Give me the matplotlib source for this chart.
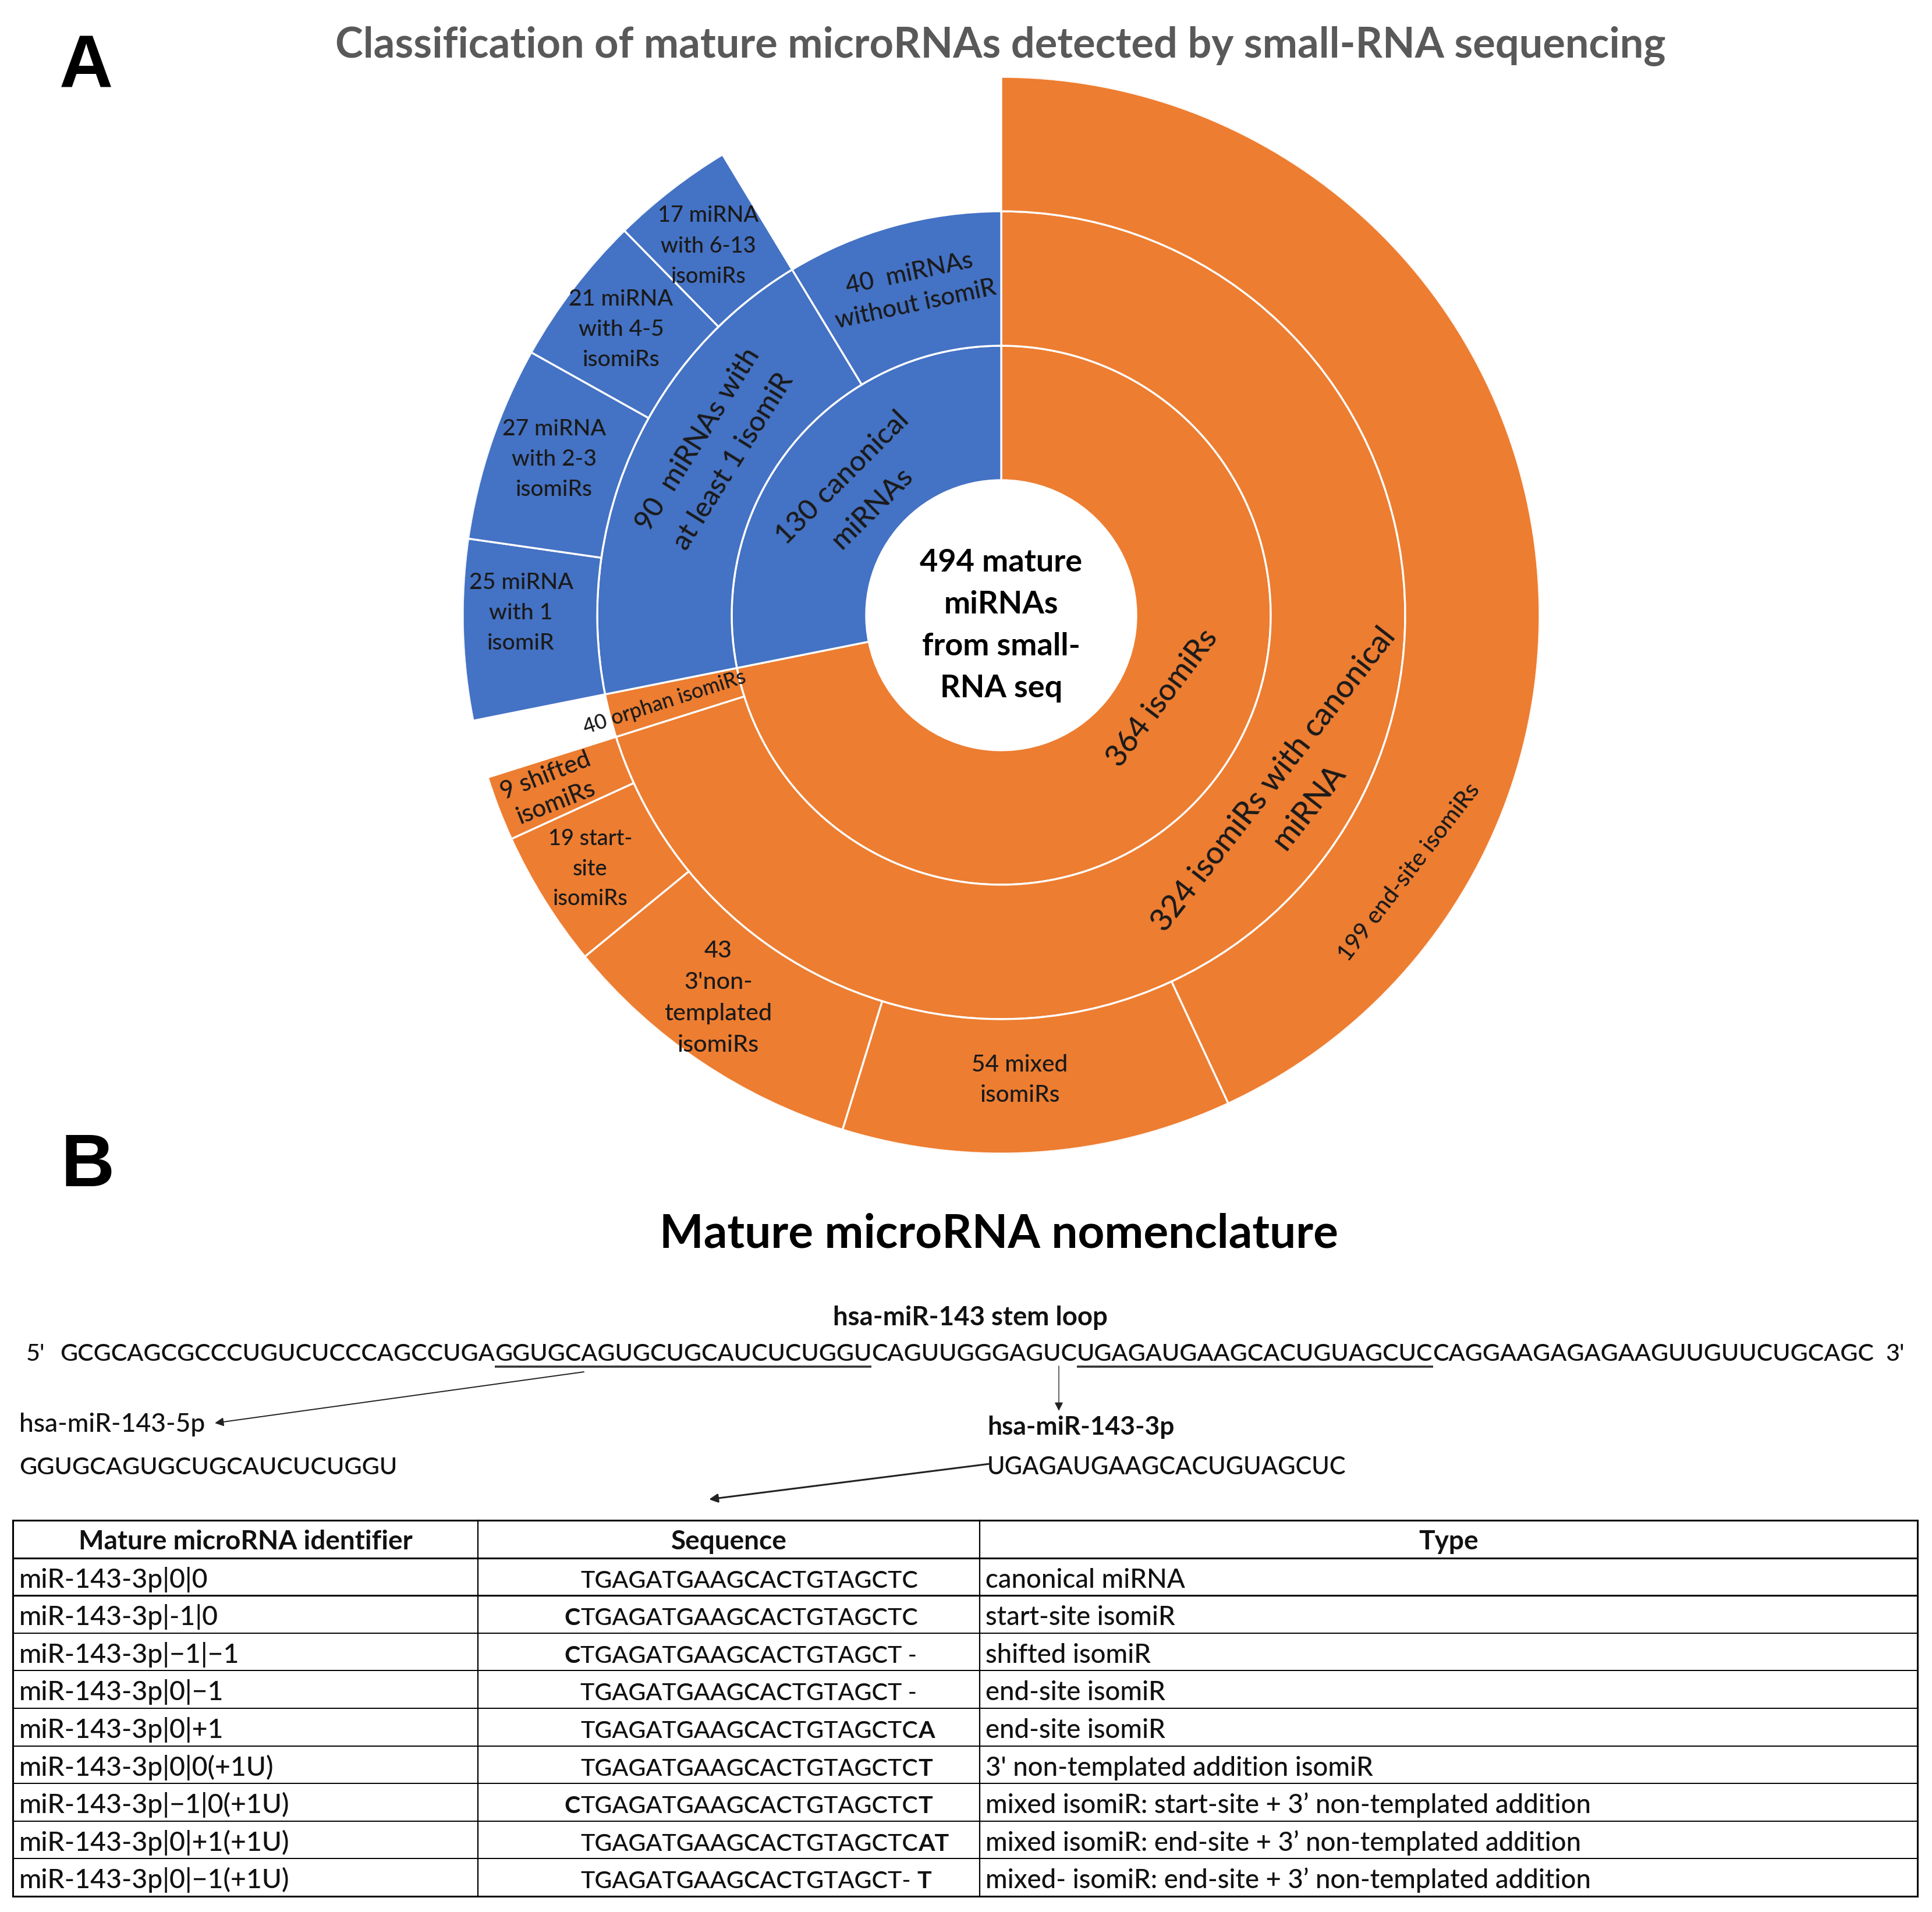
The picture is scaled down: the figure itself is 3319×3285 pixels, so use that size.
import matplotlib
matplotlib.use('Agg')
import matplotlib.pyplot as plt
import numpy as np

W, H = 3319, 3285
FONT = ['Lato', 'DejaVu Sans']
plt.rcParams['font.family'] = FONT

# ------------------------------------------------------------------ DATA
title_a = "Classification of mature microRNAs detected by small-RNA sequencing"
center_label = "494 mature\nmiRNAs\nfrom small-\nRNA seq"

ring1_labels = ["364 isomiRs", "130 canonical\nmiRNAs"]
ring1_colors = ["#ED7D31", "#4472C4"]

ring2_labels = ["324 isomiRs with canonical\nmiRNA", "40 orphan isomiRs",
                "90  miRNAs with\nat least 1 isomiR", "40  miRNAs\nwithout isomiR"]
ring2_parent = [0, 0, 1, 1]
ring2_leaf_sizes = [0, 8, 0, 40]      # drawn size of branches without children

ring3_labels = ["199 end-site isomiRs", "54 mixed\nisomiRs", "43\n3'non-\ntemplated\nisomiRs",
                "19 start-\nsite\nisomiRs", "9 shifted\nisomiRs",
                "25 miRNA\nwith 1\nisomiR", "27 miRNA\nwith 2-3\nisomiRs",
                "21 miRNA\nwith 4-5\nisomiRs", "17 miRNA\nwith 6-13\nisomiRs"]
ring3_values = [199, 54, 43, 19, 9, 25, 27, 21, 17]
ring3_parent = [0, 0, 0, 0, 0, 2, 2, 2, 2]

title_b = "Mature microRNA nomenclature"
stem_title = "hsa-miR-143 stem loop"
stem_pieces = ["GCGCAGCGCCCUGUCUCCCAGCCUGA", "GGUGCAGUGCUGCAUCUCUGGU", "CAGUUGGGAGUC",
               "UGAGAUGAAGCACUGUAGCUC", "CAGGAAGAGAGAAGUUGUUCUGCAGC"]
stem_underlined = [False, True, False, True, False]
mir5p_name, mir5p_seq = "hsa-miR-143-5p", "GGUGCAGUGCUGCAUCUCUGGU"
mir3p_name, mir3p_seq = "hsa-miR-143-3p", "UGAGAUGAAGCACUGUAGCUC"

table_header = ["Mature microRNA identifier", "Sequence", "Type"]
table_ids = ["miR-143-3p|0|0", "miR-143-3p|-1|0", "miR-143-3p|\u22121|\u22121", "miR-143-3p|0|\u22121",
             "miR-143-3p|0|+1", "miR-143-3p|0|0(+1U)", "miR-143-3p|\u22121|0(+1U)",
             "miR-143-3p|0|+1(+1U)", "miR-143-3p|0|\u22121(+1U)"]
seq_prefix = ["", "C", "C", "", "", "", "C", "", ""]
seq_core = ["TGAGATGAAGCACTGTAGCTC", "TGAGATGAAGCACTGTAGCTC", "TGAGATGAAGCACTGTAGCT -",
            "TGAGATGAAGCACTGTAGCT -", "TGAGATGAAGCACTGTAGCTC", "TGAGATGAAGCACTGTAGCTC",
            "TGAGATGAAGCACTGTAGCTC", "TGAGATGAAGCACTGTAGCTC", "TGAGATGAAGCACTGTAGCT-"]
seq_suffix = ["", "", "", "", "A", "T", "T", "AT", "T"]
seq_suffix_space = [False, False, False, False, False, False, False, False, True]
table_types = ["canonical miRNA", "start-site isomiR", "shifted isomiR", "end-site isomiR",
               "end-site isomiR", "3' non-templated addition isomiR",
               "mixed isomiR: start-site + 3\u2019 non-templated addition",
               "mixed isomiR: end-site + 3\u2019 non-templated addition",
               "mixed- isomiR: end-site + 3\u2019 non-templated addition"]

# ------------------------------------------------------------------ STYLE / LAYOUT
CX, CY = 1720, 1057
RADII = [232, 463, 694, 925]
TXT = '#1a1a1a'
REG = 'medium'
# label placement: x, y, rotation, reference line index, reference width(px), line spacing(px)
ring1_style = [(1994, 1197, 53, 0, 282, 72), (1470, 844, 45, 0, 302, 72)]
ring2_style = [(2215, 1360, 52, 0, 647, 76), (1141, 1205, 17.8, 0, 291, 40),
               (1226, 772, 58, 0, 361, 72), (1567, 493, 12, 1, 282, 54)]
ring3_style = [(2418, 1497, 52.5, 0, 374, 50), (1752, 1852, 0, 0, 165, 52),
               (1234, 1711, 0, 2, 185, 54), (1014, 1490, 0, 0, 145, 51.5),
               (945, 1353, 21.5, 0, 163, 50), (895, 1050, 0, 0, 179, 52),
               (952, 786, 0, 0, 178, 52), (1067, 563, 0, 0, 179, 52),
               (1217, 420, 0, 0, 173, 52.5)]

fig = plt.figure(figsize=(W / 100, H / 100), dpi=100)
fig.patch.set_facecolor('white')
renderer = fig.canvas.get_renderer()


def tw(s, size, weight=REG, family=None):
    kw = {'family': family} if family else {}
    t = fig.text(0, 0, s, fontsize=size, fontweight=weight, **kw)
    w = t.get_window_extent(renderer=renderer).width
    t.remove()
    return w


def fit(s, target, weight=REG):
    return 100.0 * target / tw(s, 100, weight)


# ------------------------------------------------------------------ SUNBURST
R = RADII[-1]
pax = fig.add_axes([(CX - R) / W, 1 - (CY + R) / H, 2 * R / W, 2 * R / H],
                   projection='polar', zorder=1)
pax.set_theta_zero_location('N')
pax.set_theta_direction(-1)
pax.set_ylim(0, R)
pax.set_axis_off()

n2 = len(ring2_labels)
ring2_sizes = np.array([sum(v for v, p in zip(ring3_values, ring3_parent) if p == i) + ring2_leaf_sizes[i]
                        for i in range(n2)], dtype=float)
ring1_sizes = np.array([sum(s for s, p in zip(ring2_sizes, ring2_parent) if p == j)
                        for j in range(len(ring1_labels))], dtype=float)
total = ring1_sizes.sum()
scale = 2 * np.pi / total

r1_start = np.concatenate([[0], np.cumsum(ring1_sizes)[:-1]]) * scale
r2_start = np.concatenate([[0], np.cumsum(ring2_sizes)[:-1]]) * scale
r3_start = []
used = {}
for v, p in zip(ring3_values, ring3_parent):
    off = used.get(p, 0.0)
    r3_start.append(r2_start[p] + off * scale)
    used[p] = off + v
r3_start = np.array(r3_start)

ring2_colors = [ring1_colors[p] for p in ring2_parent]
ring3_colors = [ring2_colors[p] for p in ring3_parent]

bar_kw = dict(align='edge', edgecolor='white', linewidth=2.4)
pax.bar(r1_start, RADII[1] - RADII[0], width=ring1_sizes * scale, bottom=RADII[0],
        color=ring1_colors, **bar_kw)
pax.bar(r2_start, RADII[2] - RADII[1], width=ring2_sizes * scale, bottom=RADII[1],
        color=ring2_colors, **bar_kw)
pax.bar(r3_start, RADII[3] - RADII[2], width=np.array(ring3_values) * scale, bottom=RADII[2],
        color=ring3_colors, **bar_kw)

# ------------------------------------------------------------------ OVERLAY (pixel coords)
ax = fig.add_axes([0, 0, 1, 1], zorder=2)
ax.set_xlim(0, W)
ax.set_ylim(H, 0)
ax.set_axis_off()
ax.patch.set_alpha(0)


def label(x, y, text, rot, size, spacing, weight=REG, color=TXT):
    lines = text.split('\n')
    r = np.deg2rad(rot)
    n = np.array([np.sin(r), np.cos(r)])
    k = len(lines)
    cap = 0.36 * size * 100 / 72
    for i, ln in enumerate(lines):
        off = (i - (k - 1) / 2) * spacing + cap
        ax.text(x + off * n[0], y + off * n[1], ln, rotation=rot, rotation_mode='anchor',
                ha='center', va='baseline', fontsize=size, fontweight=weight, color=color)


for labels, styles in [(ring1_labels, ring1_style), (ring2_labels, ring2_style),
                       (ring3_labels, ring3_style)]:
    for txt, (x, y, rot, li, wref, sp) in zip(labels, styles):
        size = fit(txt.split('\n')[li], wref)
        label(x, y, txt, rot, size, sp)

label(1720, 1071, center_label, 0, fit("494 mature", 279, 'bold'), 72, weight='bold', color='black')

# titles and panel letters
ax.text(1719, 98, title_a, ha='center', va='baseline', fontsize=fit(title_a, 2286, 'bold'),
        fontweight='bold', color='#595959')
ax.text(148, 150, "A", ha='center', va='baseline', fontsize=92, fontweight='bold',
        family=['Liberation Sans', 'DejaVu Sans'], color='black')
ax.text(151, 2038, "B", ha='center', va='baseline', fontsize=92, fontweight='bold',
        family=['Liberation Sans', 'DejaVu Sans'], color='black')
ax.text(1716, 2143, title_b, ha='center', va='baseline', fontsize=fit(title_b, 1166, 'bold'),
        fontweight='bold', color='black')

# ------------------------------------------------------------------ STEM LOOP
BLK = '#111111'
ax.text(1667, 2277, stem_title, ha='center', va='baseline', fontsize=fit(stem_title, 472, 'bold'),
        fontweight='bold', color=BLK)
seq_size = fit(''.join(stem_pieces), 3118)
base = 2338
x = 103
for piece, ul in zip(stem_pieces, stem_underlined):
    ax.text(x, base, piece, ha='left', va='baseline', fontsize=seq_size, fontweight=REG, color=BLK)
    w = tw(piece, seq_size)
    if ul:
        ax.plot([x, x + w], [base + 10, base + 10], color='#333333', lw=2.6, solid_capstyle='butt')
    x += w
ax.text(45, base, "5'", ha='left', va='baseline', fontsize=seq_size, fontweight=REG, color=BLK)
ax.text(x + 20, base, "3'", ha='left', va='baseline', fontsize=seq_size, fontweight=REG, color=BLK)

ax.text(33, 2460, mir5p_name, ha='left', va='baseline', fontsize=fit(mir5p_name, 319),
        fontweight=REG, color=BLK)
ax.text(33, 2533, mir5p_seq, ha='left', va='baseline', fontsize=fit(mir5p_seq, 650),
        fontweight=REG, color=BLK)
ax.text(1696, 2465, mir3p_name, ha='left', va='baseline', fontsize=fit(mir3p_name, 321, 'bold'),
        fontweight='bold', color=BLK)
ax.text(1696, 2533, mir3p_seq, ha='left', va='baseline', fontsize=fit(mir3p_seq, 617),
        fontweight=REG, color=BLK)

arrow = lambda lw: dict(arrowstyle='-|>', color='#222222', lw=lw, shrinkA=0, shrinkB=0,
                        mutation_scale=22)
ax.annotate('', xy=(369, 2445), xytext=(1003, 2357), arrowprops=arrow(1.4))
ax.annotate('', xy=(1819, 2424), xytext=(1819, 2347), arrowprops=arrow(1.0))
ax.annotate('', xy=(1218, 2576), xytext=(1700, 2515), arrowprops=arrow(2.2))

# ------------------------------------------------------------------ TABLE
TX = [22, 821, 1683, 3294]
TY0, TY1 = 2612, 3258
nrows = len(table_ids) + 1
row_h = (TY1 - TY0) / nrows
for i in range(nrows + 1):
    y = TY0 + i * row_h
    lw = 2.2 if i in (0, 1, 2, nrows) else 1.4
    ax.plot([TX[0], TX[-1]], [y, y], color='black', lw=lw, solid_capstyle='projecting')
for j, xx in enumerate(TX):
    ax.plot([xx, xx], [TY0, TY1], color='black', lw=2.2 if j in (0, 3) else 1.6)

hdr_size = fit(table_header[0], 574, 'bold')
id_size = fit("miR-143-3p|\u22121|0(+1U)", 464)
sq_size = fit(seq_core[0], 579)
ty_size = fit(table_types[6], 1041)

for j, h in enumerate(table_header):
    ax.text((TX[j] + TX[j + 1]) / 2, TY0 + 50, h, ha='center', va='baseline', fontsize=hdr_size,
            fontweight='bold', color=BLK)

SEQ_X = 997
space_w = tw("T T", sq_size) - tw("TT", sq_size)
for i in range(len(table_ids)):
    yb = TY0 + (i + 1) * row_h + 51
    ax.text(33, yb, table_ids[i], ha='left', va='baseline', fontsize=id_size, fontweight=REG, color=BLK)
    ax.text(1693, yb, table_types[i], ha='left', va='baseline', fontsize=ty_size, fontweight=REG,
            color=BLK)
    if seq_prefix[i]:
        ax.text(SEQ_X, yb, seq_prefix[i], ha='right', va='baseline', fontsize=sq_size,
                fontweight='bold', color=BLK)
    ax.text(SEQ_X, yb, seq_core[i], ha='left', va='baseline', fontsize=sq_size, fontweight=REG,
            color=BLK)
    if seq_suffix[i]:
        xs = SEQ_X + tw(seq_core[i], sq_size) + (space_w if seq_suffix_space[i] else 0)
        ax.text(xs, yb, seq_suffix[i], ha='left', va='baseline', fontsize=sq_size,
                fontweight='bold', color=BLK)

fig.savefig('out.png', dpi=100, facecolor='white')
